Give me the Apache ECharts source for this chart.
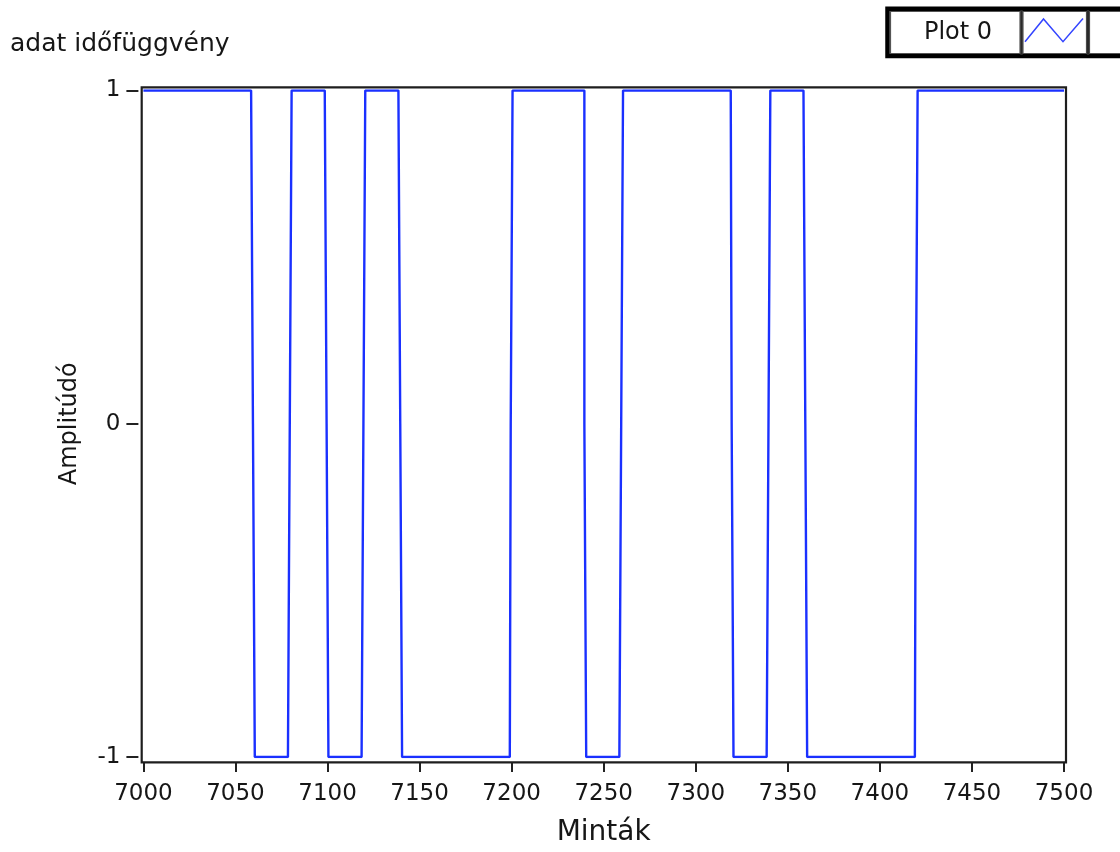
<!DOCTYPE html>
<html>
<head>
<meta charset="utf-8">
<title>adat időfüggvény</title>
<script src="https://cdn.jsdelivr.net/npm/echarts@6/dist/echarts.min.js"></script>
<style>
  html, body { margin: 0; padding: 0; background: #ffffff; }
  #chart { width: 1120px; height: 852px; }
</style>
</head>
<body>
<div id="chart"></div>
<script>
// Sample range shown on the x axis
const sampleStart = 7000;
const sampleEnd = 7500;
// Samples where the signal crosses zero (value 0 at that sample)
const edgeSamples = [7060, 7080, 7100, 7120, 7140, 7200, 7240, 7260, 7320, 7340, 7360, 7420];
// Level of each run between crossings
const runLevels = [1, -1, 1, -1, 1, -1, 1, -1, 1, -1, 1, -1, 1];
// Axis tick values
const xTicks = [7000, 7050, 7100, 7150, 7200, 7250, 7300, 7350, 7400, 7450, 7500];
const yTicks = [-1, 0, 1];

const FONT = 'DejaVu Sans';
const INK = '#161616';
const PLOT_BLUE = '#1a30ff';

// Expand the runs into one value per sample
const samples = [];
for (let n = sampleStart; n <= sampleEnd; n++) {
  let run = 0;
  while (run < edgeSamples.length && n > edgeSamples[run]) run++;
  const v = edgeSamples.includes(n) ? 0 : runLevels[run];
  samples.push([n, v]);
}

const chart = echarts.init(document.getElementById('chart'), null, { renderer: 'canvas' });

chart.setOption({
  backgroundColor: '#ffffff',
  animation: false,
  title: {
    text: 'adat időfüggvény',
    left: 10,
    top: 32,
    padding: 0,
    textStyle: { fontFamily: FONT, fontSize: 25, fontWeight: 'normal', color: INK }
  },
  grid: { left: 143.4, right: 1120 - 1064, top: 90.5, bottom: 852 - 760.5, containLabel: false },
  xAxis: {
    type: 'value',
    min: xTicks[0],
    max: xTicks[xTicks.length - 1],
    interval: 50,
    offset: 5,
    name: 'Minták',
    nameLocation: 'middle',
    nameGap: 57,
    nameTextStyle: { fontFamily: FONT, fontSize: 28, color: INK },
    axisLine: { show: false, onZero: false },
    axisTick: { show: true, length: 10, lineStyle: { color: '#222', width: 2 } },
    axisLabel: { margin: 21, fontFamily: FONT, fontSize: 23, color: INK, formatter: v => String(v) },
    splitLine: { show: false }
  },
  yAxis: {
    type: 'value',
    min: yTicks[0],
    max: yTicks[yTicks.length - 1],
    interval: 1,
    offset: 5,
    name: 'Amplitúdó',
    nameLocation: 'middle',
    nameRotate: 90,
    nameGap: 57,
    nameTextStyle: { fontFamily: FONT, fontSize: 24, color: INK },
    axisLine: { show: false, onZero: false },
    axisTick: { show: true, length: 12, lineStyle: { color: '#222', width: 2 } },
    axisLabel: { margin: 18, fontFamily: FONT, fontSize: 23, color: INK },
    splitLine: { show: false }
  },
  series: [{
    name: 'Plot 0',
    type: 'line',
    step: 'middle',
    showSymbol: false,
    data: samples,
    lineStyle: { color: PLOT_BLUE, width: 2.4 },
    z: 2
  }],
  graphic: [
    // plot frame
    {
      type: 'rect',
      shape: { x: 141.7, y: 87.3, width: 924.3, height: 675 },
      style: { fill: null, stroke: '#1e1e1e', lineWidth: 2.2 },
      z: 10, silent: true
    },
    // legend box for Plot 0
    {
      type: 'rect',
      shape: { x: 887.5, y: 8.7, width: 240, height: 47.3 },
      style: { fill: '#ffffff', stroke: '#000000', lineWidth: 4.5 },
      z: 10, silent: true
    },
    {
      type: 'rect',
      shape: { x: 890.5, y: 11.5, width: 129.5, height: 42 },
      style: { fill: '#ffffff', stroke: '#555555', lineWidth: 1.2 },
      z: 11, silent: true
    },
    {
      type: 'rect',
      shape: { x: 1023, y: 11.5, width: 63.5, height: 42 },
      style: { fill: '#ffffff', stroke: '#555555', lineWidth: 1.2 },
      z: 11, silent: true
    },
    {
      type: 'rect',
      shape: { x: 1089.5, y: 11.5, width: 40, height: 42 },
      style: { fill: '#ffffff', stroke: '#555555', lineWidth: 1.2 },
      z: 11, silent: true
    },
    {
      type: 'line', shape: { x1: 1021.5, y1: 10, x2: 1021.5, y2: 55 },
      style: { stroke: '#2a2a2a', lineWidth: 2.5 }, z: 12, silent: true
    },
    {
      type: 'line', shape: { x1: 1088, y1: 10, x2: 1088, y2: 55 },
      style: { stroke: '#2a2a2a', lineWidth: 2.5 }, z: 12, silent: true
    },
    // plot style swatch
    {
      type: 'polyline',
      shape: { points: [[1025, 41.7], [1043.5, 19], [1063, 41.7], [1083, 18.5]] },
      style: { fill: null, stroke: '#3344ff', lineWidth: 1.5 },
      z: 12, silent: true
    },
    {
      type: 'text',
      x: 958, y: 33,
      style: {
        text: 'Plot 0', fill: INK, font: '24px "DejaVu Sans"',
        textAlign: 'center', textVerticalAlign: 'middle'
      },
      z: 12, silent: true
    }
  ]
});
</script>
</body>
</html>
